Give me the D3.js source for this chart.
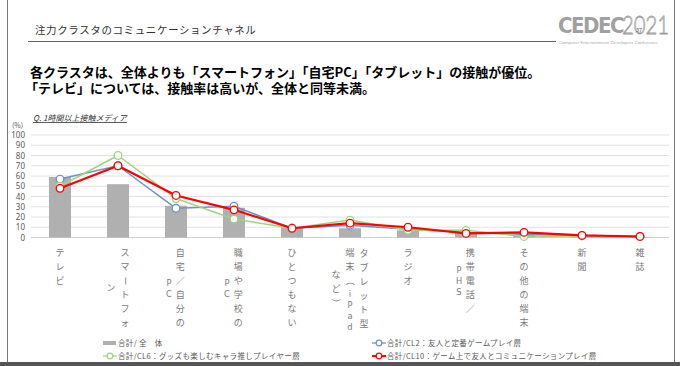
<!DOCTYPE html>
<html><head><meta charset="utf-8">
<script src="https://cdn.jsdelivr.net/npm/d3@7"></script>
<style>
html,body{margin:0;padding:0;background:#fff;}
svg{display:block;font-family:"Noto Sans CJK JP","Noto Sans",sans-serif;}
</style></head>
<body><svg id="c" width="680" height="366"></svg>
<script>
// ---- data ----
const categories = ["テレビ","スマートフォン","自宅／自分のPC","職場や学校のPC","ひとつもない","タブレット型端末（iPadなど）","ラジオ","携帯電話／PHS","その他の端末","新聞","雑誌"];
// label columns as wrapped in the original (vertical writing, columns right to left)
const labelColumns = [["テレビ"],["スマートフォ","ン"],["自宅／自分の","PC"],["職場や学校の","PC"],["ひとつもない"],["タブレット型","端末（iPad","など）"],["ラジオ"],["携帯電話／","PHS"],["その他の端末"],["新聞"],["雑誌"]];
const totalAll = [59, 52, 31, 29, 10, 9, 7, 5, 2.5, 1, 0.5];
const cl2 = [57, 70, 28.5, 30.5, 9, 12, 8, 5, 3, 2, 1];
const cl6 = [50, 80, 38, 18, 9, 17, 7, 7, 1, 1.5, 1];
const cl10 = [48, 70, 41, 27, 9, 14, 10, 4, 5, 2, 1];
const yTicks = [0,10,20,30,40,50,60,70,80,90,100];
const seriesNames = ["合計/ 全　体","合計/CL2：友人と定番ゲームプレイ層","合計/CL6：グッズも楽しむキャラ推しプレイヤー層","合計/CL10：ゲーム上で友人とコミュニケーションプレイ層"];
const titleText = "注力クラスタのコミュニケーションチャネル";
const headline = ["各クラスタは、全体よりも「スマートフォン」「自宅PC」「タブレット」の接触が優位。","「テレビ」については、接触率は高いが、全体と同等未満。"];
const questionText = "Q. 1時間以上接触メディア";

const svg = d3.select("#c");
const gray = "#595959";

// frame
svg.append("line").attr("x1",7.5).attr("x2",7.5).attr("y1",0).attr("y2",362).attr("stroke","#777").attr("stroke-width",1);
svg.append("line").attr("x1",674.5).attr("x2",674.5).attr("y1",0).attr("y2",362).attr("stroke","#777").attr("stroke-width",1);
svg.append("rect").attr("x",0).attr("y",362).attr("width",680).attr("height",4).attr("fill","#555");

// title
svg.append("text").attr("x",35).attr("y",34).attr("font-size",10.5).attr("letter-spacing",0.6).attr("fill","#333").text(titleText);
svg.append("line").attr("x1",28).attr("x2",556).attr("y1",41.5).attr("y2",41.5).attr("stroke","#666").attr("stroke-width",1);

// logo
const logo = svg.append("g");
logo.append("text").attr("x",558).attr("y",33).attr("font-size",22).attr("font-weight","bold").attr("fill","#a0a0a0").attr("font-family","'DejaVu Sans Condensed','DejaVu Sans',sans-serif").attr("letter-spacing",-1.5).text("CEDEC");
logo.append("text").attr("transform","translate(622,34) scale(0.78,1)").attr("font-size",26).attr("font-weight",300).attr("fill","none").attr("stroke","#9a9a9a").attr("stroke-width",0.8).attr("font-family","Lato,sans-serif").text("2021");
logo.append("text").attr("x",559).attr("y",44).attr("font-size",4.6).attr("fill","#aaa").attr("font-family","Lato,sans-serif").text("Computer Entertainment Developers Conference");
logo.append("text").attr("x",636).attr("y",32).attr("font-size",5.5).attr("fill","#555").text("37");

// headline
headline.forEach((t,i)=>{
  svg.append("text").attr("x", i===0?30:25).attr("y", 77 + i*16).attr("font-size",13).attr("font-weight","bold").attr("fill","#000").text(t);
});

// question
svg.append("text").attr("x",33).attr("y",121).attr("font-size",8).attr("font-style","italic").attr("fill","#333").attr("text-decoration","underline").text(questionText);
svg.append("text").attr("x",12).attr("y",128).attr("font-size",7).attr("fill",gray).text("(%)");

// scales
const x = d3.scaleBand().domain(categories).range([31,669]).paddingInner(0.62).paddingOuter(0.31);
const y = d3.scaleLinear().domain([0,100]).range([237.5,135]);
const cx = c => x(c) + x.bandwidth()/2;

// gridlines
svg.append("g").selectAll("line").data(yTicks).join("line")
  .attr("x1",31).attr("x2",669).attr("y1",d=>y(d)).attr("y2",d=>y(d))
  .attr("stroke",d=>d===0?"#d0d0d0":"#e2e2e2").attr("stroke-width",1);

// y axis
const yAxis = svg.append("g").attr("transform","translate(25,0)")
  .call(d3.axisLeft(y).tickValues(yTicks).tickSize(0).tickPadding(0));
yAxis.select(".domain").remove();
yAxis.selectAll("text").attr("font-size",8).attr("fill",gray).attr("font-family","'Noto Sans',sans-serif");

// bars
svg.append("g").selectAll("rect").data(categories).join("rect")
  .attr("x",c=>x(c)).attr("width",x.bandwidth())
  .attr("y",(c,i)=>y(totalAll[i])).attr("height",(c,i)=>y(0)-y(totalAll[i]))
  .attr("fill","#b0b0b0");

// lines
const lineSeries = [
  {vals:cl2, color:"#6f93c9", w:1.5},
  {vals:cl6, color:"#9fd47f", w:1.5},
  {vals:cl10, color:"#ff0000", w:2.2}
];
const lineGen = d3.line().x(d=>cx(d.c)).y(d=>y(d.v));
lineSeries.forEach(s=>{
  const pts = categories.map((c,i)=>({c, v:s.vals[i]}));
  const g = svg.append("g");
  g.append("path").attr("d",lineGen(pts)).attr("fill","none").attr("stroke",s.color).attr("stroke-width",s.w).attr("stroke-linejoin","round");
  g.selectAll("circle").data(pts).join("circle")
    .attr("cx",d=>cx(d.c)).attr("cy",d=>y(d.v)).attr("r",3.8)
    .attr("fill","#fff").attr("stroke",s.color).attr("stroke-width",1.3);
});

// vertical category labels (manual vertical layout, one glyph per cell)
const lblTop = 246;
const fs = 9;
const isLatin = ch => /[\x00-\x7F]/.test(ch);
const pitch = ch => isLatin(ch) ? 11 : 14;
const rotated = new Set(["ー","（","）","〜"]);
const lg = svg.append("g").attr("font-size",fs).attr("fill","#7a7a7a");
labelColumns.forEach((cols,i)=>{
  const center = cx(categories[i]);
  const widths = cols.map(t=>/[^\x00-\x7F]/.test(t)?14:8.5);
  const heights = cols.map(t=>d3.sum(Array.from(t), pitch));
  const maxH = d3.max(heights);
  const total = d3.sum(widths);
  let right = center + total/2;
  cols.forEach((t,j)=>{
    const colX = right - widths[j]/2;
    right -= widths[j];
    let yy = lblTop + (maxH - heights[j])/2;
    Array.from(t).forEach(ch=>{
      const p = pitch(ch);
      const cy = yy + p/2;
      const el = lg.append("text").attr("x",colX).attr("y",cy + fs*0.36)
        .attr("text-anchor","middle").text(ch);
      if(isLatin(ch)) el.attr("font-family","'DejaVu Sans',sans-serif").attr("font-size",8.3);
      if(rotated.has(ch)) el.attr("transform",`rotate(90,${colX},${cy})`);
      yy += p;
    });
  });
});

// legend
const legend = svg.append("g").attr("font-size",7.5).attr("fill",gray);
const legPos = [[103,343],[372,343],[103,356],[372,356]];
const legColors = ["#b0b0b0","#6f93c9","#9fd47f","#ff0000"];
seriesNames.forEach((n,i)=>{
  const [lx,ly] = legPos[i];
  if(i===0){
    legend.append("rect").attr("x",lx).attr("y",ly-2).attr("width",13).attr("height",4).attr("fill",legColors[i]);
  } else {
    legend.append("line").attr("x1",lx).attr("x2",lx+14).attr("y1",ly).attr("y2",ly).attr("stroke",legColors[i]).attr("stroke-width",i===3?2:1.3);
    legend.append("circle").attr("cx",lx+7).attr("cy",ly).attr("r",2.8).attr("fill","#fff").attr("stroke",legColors[i]).attr("stroke-width",1.2);
  }
  legend.append("text").attr("x",lx+15).attr("y",ly+3).attr("letter-spacing",0.35).text(n);
});
</script>
</body></html>
